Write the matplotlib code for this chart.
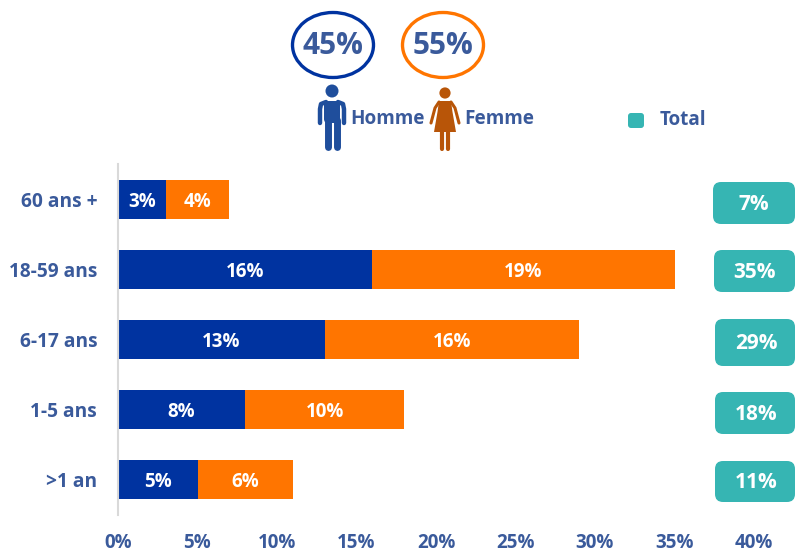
"""Age and sex breakdown as a stacked bar chart, with total badges on the right."""

import matplotlib
matplotlib.use("Agg")
import matplotlib.pyplot as plt
from matplotlib.patches import Circle, Ellipse, FancyBboxPatch, Polygon, Rectangle

plt.rcParams["font.family"] = ["Open Sans", "DejaVu Sans"]

# ---------------------------------------------------------------------------
# Data
# ---------------------------------------------------------------------------

AGE_GROUPS = ["60 ans +", "18-59 ans", "6-17 ans", "1-5 ans", ">1 an"]
HOMME = [3, 16, 13, 8, 5]
FEMME = [4, 19, 16, 10, 6]
TOTAL = [7, 35, 29, 18, 11]
SHARE_HOMME = 45
SHARE_FEMME = 55
X_TICKS = [0, 5, 10, 15, 20, 25, 30, 35, 40]

BLUE = "#0033A0"
ORANGE = "#FF7500"
TEAL = "#36B5B3"
TEXT = "#3A5A9B"
ICON_BLUE = "#1F4E9C"
ICON_ORANGE = "#B85508"

W, H = 795, 552

fig = plt.figure(figsize=(W / 100, H / 100), dpi=100)

# ---------------------------------------------------------------------------
# Bars
# ---------------------------------------------------------------------------

ax = fig.add_axes([118 / W, 1 - 514.5 / H, (754 - 118) / W, 350 / H])
y = list(range(len(AGE_GROUPS)))
ax.barh(y, HOMME, height=0.57, color=BLUE)
ax.barh(y, FEMME, left=HOMME, height=0.57, color=ORANGE)
ax.set_xlim(0, 40)
ax.set_ylim(len(AGE_GROUPS) - 0.5, -0.5)

for i, (h, f) in enumerate(zip(HOMME, FEMME)):
    ax.text(h / 2, i + 0.03, f"{h}%", ha="center", va="center", color="white",
            fontsize=13.5, fontweight="bold")
    ax.text(h + f / 2, i + 0.03, f"{f}%", ha="center", va="center", color="white",
            fontsize=13.5, fontweight="bold")

ax.set_yticks(y, AGE_GROUPS)
ax.set_xticks(X_TICKS, [f"{t}%" for t in X_TICKS])
ax.tick_params(axis="y", length=0, pad=15, labelsize=13.8, labelcolor=TEXT)
ax.tick_params(axis="x", length=0, pad=13.5, labelsize=13.5, labelcolor=TEXT)
for label in ax.get_xticklabels() + ax.get_yticklabels():
    label.set_fontweight("bold")
for side in ["top", "right", "bottom"]:
    ax.spines[side].set_visible(False)
ax.spines["left"].set_color("#D9D9D9")
ax.spines["left"].set_linewidth(1.5)

# ---------------------------------------------------------------------------
# Overlay in pixel coordinates: badges, legend, people
# ---------------------------------------------------------------------------

over = fig.add_axes([0, 0, 1, 1], facecolor="none")
over.set_xlim(0, W)
over.set_ylim(H, 0)
over.axis("off")


def badge(x0, y0, x1, y1, color=TEAL, radius=8):
    over.add_patch(FancyBboxPatch((x0 + radius, y0 + radius), x1 - x0 - 2 * radius,
                                  y1 - y0 - 2 * radius,
                                  boxstyle=f"round,pad={radius},rounding_size={radius}",
                                  fc=color, ec="none", clip_on=False))


BADGE_BOXES = [(713, 182, 795, 224), (714, 250, 795, 292), (715, 319, 795, 366),
               (715, 392, 795, 434), (715, 461, 795, 502)]
for box, total in zip(BADGE_BOXES, TOTAL):
    badge(*box)
    over.text(box[0] + 41, (box[1] + box[3]) / 2 + 1, f"{total}%", ha="center", va="center",
              color="white", fontsize=15, fontweight="bold")

# legend for the total
badge(628, 113, 644, 128, radius=3)
over.text(660, 120, "Total", ha="left", va="center", color=TEXT, fontsize=13.6,
          fontweight="bold")

# share bubbles
for cx, share, edge in [(333, SHARE_HOMME, BLUE), (443, SHARE_FEMME, ORANGE)]:
    over.add_patch(Ellipse((cx, 45), 81, 65, fc="white", ec=edge, lw=2.4))
    over.text(cx, 46, f"{share}%", ha="center", va="center", color=TEXT,
              fontsize=21.5, fontweight="bold")


def man(cx):
    over.add_patch(Circle((cx, 91), 6.5, fc=ICON_BLUE, ec="none"))
    # torso and legs
    over.add_patch(FancyBboxPatch((cx - 8, 101), 16, 22,
                                  boxstyle="round,pad=0,rounding_size=4",
                                  fc=ICON_BLUE, ec="none"))
    over.plot([cx - 4.5, cx - 4.5], [120, 147], color=ICON_BLUE, lw=5, solid_capstyle="round")
    over.plot([cx + 4.5, cx + 4.5], [120, 147], color=ICON_BLUE, lw=5, solid_capstyle="round")
    # arms, with a curve over the shoulders
    for sign in (-1, 1):
        over.plot([cx + sign * 6, cx + sign * 11, cx + sign * 12, cx + sign * 12],
                  [102, 104, 109, 123], color=ICON_BLUE, lw=3.2,
                  solid_capstyle="round", solid_joinstyle="round")
        over.add_patch(Rectangle((cx + sign * 9 - 0.6, 109), 1.2, 15, fc="white", ec="none"))


def woman(cx):
    over.add_patch(Circle((cx, 93), 5.6, fc=ICON_ORANGE, ec="none"))
    over.add_patch(Polygon([(cx - 6, 101), (cx + 6, 101), (cx + 7.5, 112), (cx + 11, 132),
                            (cx - 11, 132), (cx - 7.5, 112)], fc=ICON_ORANGE, ec="none"))
    over.plot([cx - 2.8, cx - 2.8], [132, 149], color=ICON_ORANGE, lw=3, solid_capstyle="round")
    over.plot([cx + 2.8, cx + 2.8], [132, 149], color=ICON_ORANGE, lw=3, solid_capstyle="round")
    for sign in (-1, 1):
        over.plot([cx + sign * 6, cx + sign * 10, cx + sign * 14], [102, 108, 123],
                  color=ICON_ORANGE, lw=2.2, solid_capstyle="round")


man(332)
woman(445)
over.text(350, 119, "Homme", ha="left", va="center", color=TEXT, fontsize=13.6,
          fontweight="bold")
over.text(464, 119, "Femme", ha="left", va="center", color=TEXT, fontsize=13.6,
          fontweight="bold")

fig.savefig("out.png", dpi=100)
